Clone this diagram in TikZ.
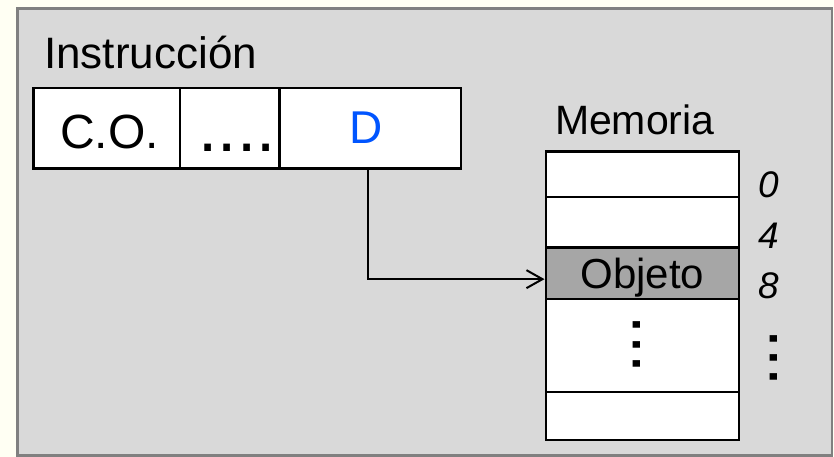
\documentclass[tikz,border=0pt]{standalone}
\usepackage{fontspec}
\setmainfont{Liberation Sans}
\usetikzlibrary{arrows.meta}

\definecolor{pagebg}{RGB}{255,255,243}
\definecolor{panelfill}{RGB}{217,217,217}
\definecolor{panelline}{RGB}{128,128,128}
\definecolor{cellhi}{RGB}{166,166,166}
\definecolor{fieldblue}{RGB}{0,85,255}

\newcommand\fsz[1]{\fontsize{#1}{#1}\selectfont}

\begin{document}
\begin{tikzpicture}[x=1pt,y=-1pt,
  lbl/.style={inner sep=0pt, outer sep=0pt, anchor=base west},
  lblc/.style={inner sep=0pt, outer sep=0pt, anchor=base},
  cell/.style={draw=black, line width=2.4pt, fill=white, inner sep=0pt,
               minimum width=#1},
  field/.style={cell=#1, minimum height=80pt},
  memcell/.style={cell=193.3pt, minimum height=#1},
  addr/.style={lblc, font=\fsz{37}\itshape},
  vdots/.style={lblc, rotate=90, font=\fsz{69}},
  link/.style={line width=2pt, -{Straight Barb[length=16pt,width=18pt]}}
]
% page and panel
\fill[pagebg] (0,0) rectangle (834,457);
\useasboundingbox (0,0) rectangle (834,457);
\draw[panelline, fill=panelfill, line width=2.2pt] (17.5,8.5) rectangle (832,455.5);

% instruction word
\node[lbl, font=\fsz{44}] (title) at (44.2,68.3) {Instrucción};
\node[field=146.7pt] (co) at (106.65,128.3) {};
\node[field=99.3pt] (dots) at (229.65,128.3) {};
\node[field=181.7pt] (d) at (370.15,128.3) {};
\node[lbl, font=\fsz{48}] (cotext) at (60.3,148.3) {C.O.};
\node[lbl, font=\fsz{69}] (dotstext) at (198.7,152) {....};
\node[lbl, font=\fsz{46}, text=fieldblue] (dtext) at (349.8,143.3) {D};

% memory
\node[lbl, font=\fsz{41}] (memtitle) at (555,135) {Memoria};
\node[memcell=45pt] (m0) at (642.35,174.2) {};
\node[memcell=50.6pt] (m4) at (642.35,222) {};
\node[memcell=51.7pt, fill=cellhi] (m8) at (642.35,273.15) {};
\node[memcell=92.7pt] (mdots) at (642.35,345.35) {};
\node[memcell=48.3pt] (mlast) at (642.35,415.85) {};
\node[lblc, font=\fsz{42}] (obj) at (642.4,288.8) {Objeto};
\node[vdots] (mvd) at (640.4,344.5) {...};

% addresses
\node[addr] (a0) at (769,197.5) {0};
\node[addr] (a4) at (769,248) {4};
\node[addr] (a8) at (769,298) {8};
\node[vdots] (avd) at (777.7,357.7) {...};

% displacement points at the object
\draw[link] ([xshift=-2pt]d.south) |- ([yshift=-6pt]m8.west);
\end{tikzpicture}
\end{document}
